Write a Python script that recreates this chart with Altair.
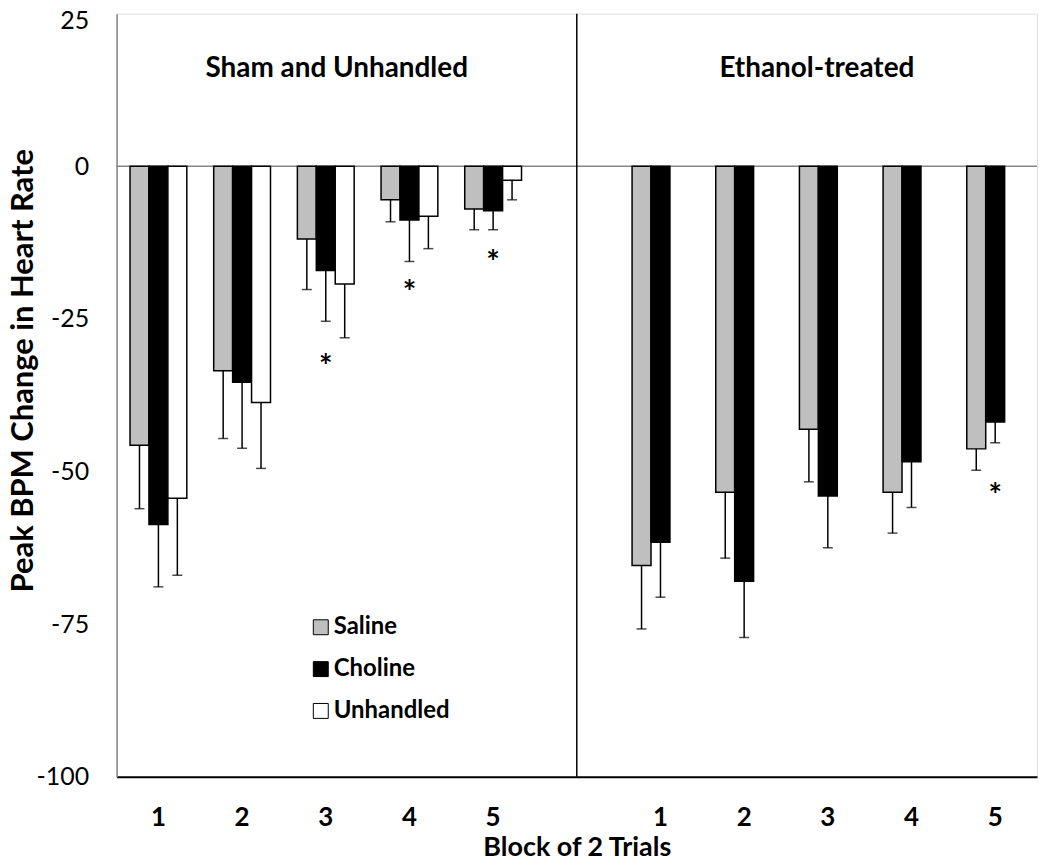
import altair as alt
import pandas as pd

# ---------------- data ----------------
groups = ["Saline", "Choline", "Unhandled"]
group_colors = ["#BFBFBF", "#000000", "#FFFFFF"]

sham_slots = ["S1", "S2", "S3", "S4", "S5"]
eth_slots = ["E1", "E2", "E3", "E4", "E5"]
slots = sham_slots + ["gap"] + eth_slots

# Sham and Unhandled panel
sham_saline = [-45.7, -33.5, -11.9, -5.5, -7.0]
sham_saline_se = [10.4, 11.1, 8.3, 3.6, 3.4]
sham_choline = [-58.7, -35.4, -17.1, -8.8, -7.3]
sham_choline_se = [10.2, 10.8, 8.3, 6.8, 3.1]
unhandled = [-54.4, -38.7, -19.3, -8.2, -2.3]
unhandled_se = [12.6, 10.8, 8.8, 5.3, 3.2]

# Ethanol-treated panel
eth_saline = [-65.4, -53.4, -43.1, -53.4, -46.3]
eth_saline_se = [10.4, 10.8, 8.6, 6.7, 3.5]
eth_choline = [-61.6, -68.0, -54.0, -48.4, -41.9]
eth_choline_se = [9.0, 9.2, 8.5, 7.5, 3.4]

# significance markers
star_slots = ["S3", "S4", "S5", "E5"]
star_y = [-31.8, -19.6, -14.7, -52.9]

y_ticks = [25, 0, -25, -50, -75, -100]

# ---------------- build table ----------------
rows = []
for slot_list, series in [
    (sham_slots, [("Saline", sham_saline, sham_saline_se),
                  ("Choline", sham_choline, sham_choline_se),
                  ("Unhandled", unhandled, unhandled_se)]),
    (eth_slots, [("Saline", eth_saline, eth_saline_se),
                 ("Choline", eth_choline, eth_choline_se)]),
]:
    for g, vals, ses in series:
        for s, v, e in zip(slot_list, vals, ses):
            rows.append({"slot": s, "group": g, "value": v, "lo": v - e})
df = pd.DataFrame(rows)
stars = pd.DataFrame({"slot": star_slots, "value": star_y, "t": ["*"] * len(star_slots)})

FONT = "Lato"

x_axis = alt.Axis(
    title="Block of 2 Trials",
    labelExpr="datum.value == 'gap' ? '' : substring(datum.value, 1)",
    labelAngle=0,
    labelFont=FONT,
    labelFontSize=26,
    labelFontWeight="bold",
    labelColor="black",
    labelBaseline="alphabetic",
    labelPadding=49,
    ticks=False,
    domainColor="black",
    domainWidth=2,
    titleFont=FONT,
    titleFontSize=27,
    titleFontWeight="bold",
    titleColor="black",
    titleBaseline="alphabetic",
    titleY=79,
)
x_scale = alt.Scale(domain=slots, paddingInner=0, paddingOuter=0)
x_enc = alt.X("slot:N", scale=x_scale, axis=x_axis)

xoff = alt.XOffset(
    "group:N", scale=alt.Scale(domain=groups, paddingInner=0, paddingOuter=0.71)
)

y_scale = alt.Scale(domain=[-100, 25], nice=False)
y_axis = alt.Axis(
    values=y_ticks,
    grid=False,
    ticks=False,
    domainColor="#868686",
    domainWidth=1.5,
    labelExpr="toString(datum.value)",
    labelFont=FONT,
    labelFontSize=25,
    labelColor="black",
    labelPadding=28,
    labelOffset={"condition": {"test": "datum.value == 25", "value": 7}, "value": 0},
    title="Peak BPM Change in Heart Rate",
    titleFont=FONT,
    titleFontSize=31,
    titleFontWeight="bold",
    titleColor="black",
    titleAngle=-90,
    titleX=-84,
    titleY=358,
    titleAlign="center",
    titleBaseline="alphabetic",
)


def yq(field):
    return alt.Y(field, type="quantitative", scale=y_scale, axis=y_axis)


zero_line = alt.Chart(pd.DataFrame({"value": [0]})).mark_rule(
    color="#868686", strokeWidth=1.5
).encode(y=yq("value"))

divider = alt.Chart(pd.DataFrame({"slot": ["gap"]})).mark_rule(
    color="black", strokeWidth=1.5
).encode(x=x_enc)

bars = alt.Chart(df).mark_bar(stroke="black", strokeWidth=1.5).encode(
    x=x_enc,
    xOffset=xoff,
    y=yq("value"),
    fill=alt.Fill(
        "group:N",
        scale=alt.Scale(domain=groups, range=group_colors),
        legend=alt.Legend(
            title=None,
            orient="none",
            legendX=193,
            legendY=604,
            symbolType="square",
            symbolSize=225,
            symbolStrokeColor="black",
            symbolStrokeWidth=1,
            labelFont=FONT,
            labelFontSize=24,
            labelFontWeight="bold",
            labelColor="black",
            labelOffset=1,
            rowPadding=18,
            padding=0,
        ),
    ),
)

err_rule = alt.Chart(df).mark_rule(color="black", strokeWidth=1.5).encode(
    x=x_enc, xOffset=xoff, y=yq("value"), y2="lo:Q"
)
err_cap = alt.Chart(df).mark_tick(
    color="black", thickness=1.5, size=10, orient="horizontal"
).encode(x=x_enc, xOffset=xoff, y=yq("lo"))

star_text = alt.Chart(stars).mark_text(
    font=FONT, fontSize=32, fontWeight="bold", color="black",
    baseline="alphabetic", dy=18
).encode(x=x_enc, y=yq("value"), text="t:N")

title_left = alt.Chart(
    pd.DataFrame({"slot": ["S3"], "value": [16], "t": ["Sham and Unhandled"]})
).mark_text(
    font=FONT, fontSize=28, fontWeight="bold", color="black", baseline="middle", dx=11
).encode(x=x_enc, y=yq("value"), text="t:N")

title_right = alt.Chart(
    pd.DataFrame({"slot": ["E3"], "value": [16], "t": ["Ethanol-treated"]})
).mark_text(
    font=FONT, fontSize=28, fontWeight="bold", color="black", baseline="middle", dx=-11
).encode(x=x_enc, y=yq("value"), text="t:N")

chart = alt.layer(
    zero_line, divider, bars, err_rule, err_cap, star_text, title_left, title_right
).properties(
    width=924,
    height=766,
    autosize=alt.AutoSizeParams(type="none"),
    padding={"left": 109, "top": 4, "right": 5, "bottom": 85},
).configure_view(strokeWidth=0).configure(background="white")

chart.save("out.html", embed_options={"renderer": "svg", "actions": False})
